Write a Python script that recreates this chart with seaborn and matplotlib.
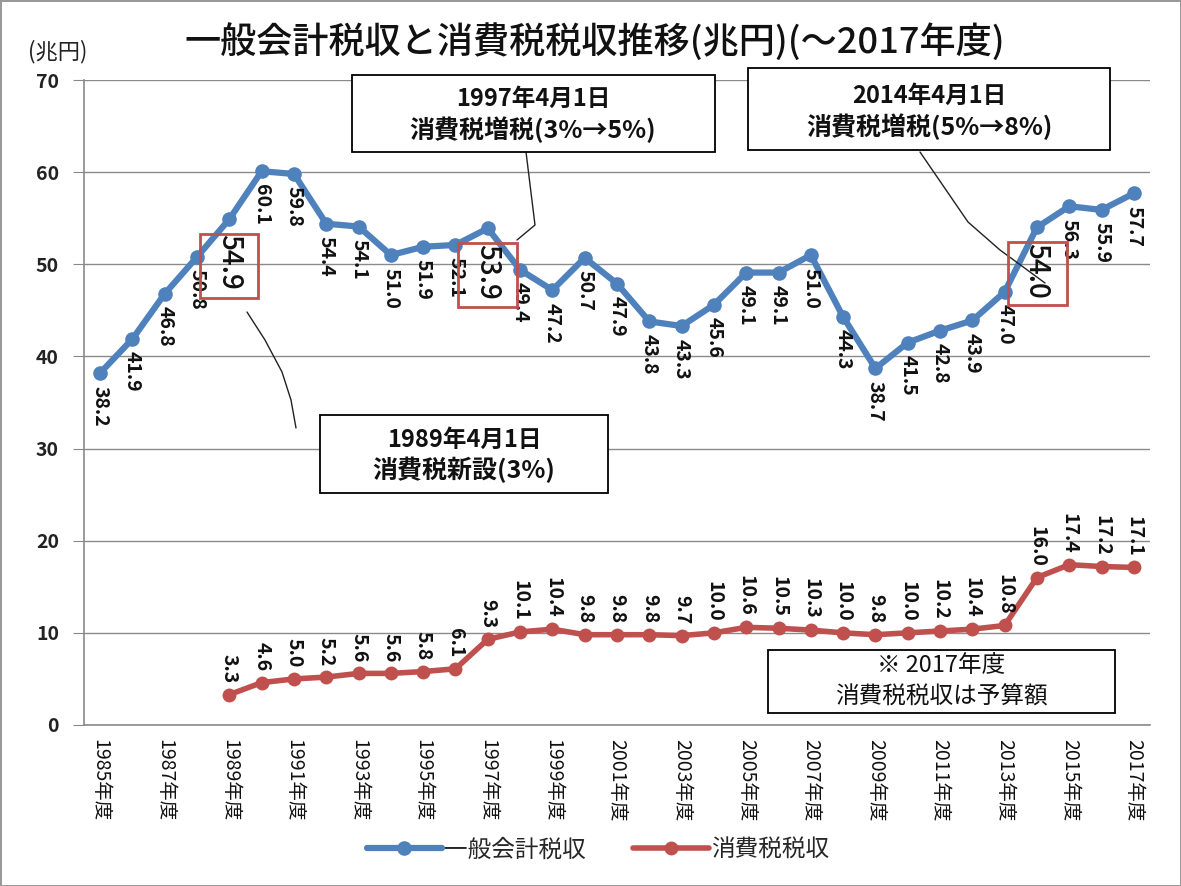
import numpy as np
import matplotlib.pyplot as plt
import seaborn as sns
from matplotlib.patches import Rectangle
from matplotlib.lines import Line2D

# data (兆円)
years = list(range(1985, 2018))
year_labels = [str(y) + '年度' for y in years]
general_tax = [38.2, 41.9, 46.8, 50.8, 54.9, 60.1, 59.8, 54.4, 54.1, 51.0, 51.9,
               52.1, 53.9, 49.4, 47.2, 50.7, 47.9, 43.8, 43.3, 45.6, 49.1, 49.1,
               51.0, 44.3, 38.7, 41.5, 42.8, 43.9, 47.0, 54.0, 56.3, 55.9, 57.7]
cons_years = list(range(1989, 2018))
cons_tax = [3.3, 4.6, 5.0, 5.2, 5.6, 5.6, 5.8, 6.1, 9.3, 10.1, 10.4, 9.8, 9.8,
            9.8, 9.7, 10.0, 10.6, 10.5, 10.3, 10.0, 9.8, 10.0, 10.2, 10.4, 10.8,
            16.0, 17.4, 17.2, 17.1]
highlight_years = [1989, 1997, 2014]

BLUE = '#4F81BD'
RED = '#C0504D'
W, H = 1181, 886

sns.set_style('white')
plt.rcParams['font.family'] = ['Noto Sans CJK JP', 'DejaVu Sans']

fig = plt.figure(figsize=(W / 100, H / 100), dpi=100)
fig.patch.set_edgecolor('#999999')
fig.patch.set_linewidth(2)
ax = fig.add_axes([84 / W, 1 - 725 / H, 1066 / W, 645 / H])

xi = np.array([y - 1985 for y in years])
xc = np.array([y - 1985 for y in cons_years])

sns.lineplot(x=xi, y=general_tax, ax=ax, color=BLUE, lw=4.5, marker='o',
             markersize=10.5, markeredgewidth=0, label='一般会計税収')
sns.lineplot(x=xc, y=cons_tax, ax=ax, color=RED, lw=4, marker='o',
             markersize=10, markeredgewidth=0, label='消費税税収')

# data labels
for x, v, yr in zip(xi, general_tax, years):
    big = yr in highlight_years
    ax.annotate(f'{v:.1f}', (x, v), xytext=(0, -11 if big else -9),
                textcoords='offset points', rotation=-90, ha='center', va='top',
                fontsize=20 if big else 14, fontweight='medium' if big else 'bold',
                color='#111111')
for x, v in zip(xc, cons_tax):
    ax.annotate(f'{v:.1f}', (x, v), xytext=(0, 8), textcoords='offset points',
                rotation=-90, ha='center', va='bottom', fontsize=14,
                fontweight='bold', color='#111111')

ax.set_xlim(-0.5, len(years) - 0.5)
ax.set_ylim(0, 70)
ax.set_yticks(range(0, 71, 10))
ax.set_yticklabels([str(v) for v in range(0, 71, 10)], fontsize=14,
                   fontweight='bold', color='#222222')
ax.set_xticks(np.arange(-0.5, len(years), 1))
ax.set_xticklabels([])
ax.set_xticks(xi[::2], minor=True)
ax.set_xticklabels(year_labels[::2], minor=True, rotation=-90, fontsize=14,
                   color='#111111')
ax.tick_params(axis='x', which='major', length=8, color='#888888', direction='out')
ax.tick_params(axis='x', which='minor', length=0, pad=10)
ax.tick_params(axis='y', length=8, color='#888888', pad=10, left=True)
ax.yaxis.grid(True, color='#8a8a8a', lw=1)
ax.set_axisbelow(True)
for s in ['top', 'right']:
    ax.spines[s].set_visible(False)
for s in ['left', 'bottom']:
    ax.spines[s].set_color('#8a8a8a')
    ax.spines[s].set_linewidth(1.2)
ax.set_xlabel('')
ax.set_ylabel('')

handles, labels = ax.get_legend_handles_labels()
ax.legend(handles, labels, loc='center', bbox_to_anchor=(598 / W, 1 - 850 / H),
          bbox_transform=fig.transFigure, ncol=2, frameon=False, fontsize=17,
          handlelength=3.2, columnspacing=2.0, handletextpad=0.1)

fig.text(595 / W, 1 - 42 / H, '一般会計税収と消費税税収推移(兆円)(～2017年度)',
         ha='center', va='center', fontsize=26, fontweight='medium', color='#111111')
fig.text(28 / W, 1 - 52 / H, '(兆円)', ha='left', va='center', fontsize=16,
         color='#222222')


def px_box(x0, y0, x1, y1, ec='black', lw=1.3):
    fig.add_artist(Rectangle((x0 / W, 1 - y1 / H), (x1 - x0) / W, (y1 - y0) / H,
                             transform=fig.transFigure, facecolor='white' if ec == 'black' else 'none',
                             edgecolor=ec, lw=lw, zorder=5))


def px_line(pts):
    xs = [p[0] / W for p in pts]
    ys = [1 - p[1] / H for p in pts]
    fig.add_artist(Line2D(xs, ys, transform=fig.transFigure, color='#222222',
                          lw=1, zorder=4))


def px_text(x, y, s, **kw):
    fig.text(x / W, 1 - y / H, s, ha='center', va='center', zorder=6,
             color='#111111', **kw)


# leader lines
px_line([(247, 312), (265, 340), (282, 372), (291, 400), (296, 428)])
px_line([(526, 152), (535, 225), (517, 240)])
px_line([(920, 152), (968, 222), (1000, 250), (1045, 283)])

# annotation boxes
px_box(352, 75, 715, 152)
px_text(533, 99, '1997年4月1日', fontsize=17, fontweight='bold')
px_text(533, 130, '消費税増税(3%→5%)', fontsize=18, fontweight='bold')

px_box(748, 68, 1110, 150)
px_text(929, 96, '2014年4月1日', fontsize=17, fontweight='bold')
px_text(929, 127, '消費税増税(5%→8%)', fontsize=18, fontweight='bold')

px_box(320, 415, 608, 493)
px_text(464, 440, '1989年4月1日', fontsize=17, fontweight='bold')
px_text(464, 470, '消費税新設(3%)', fontsize=18, fontweight='bold')

px_box(768, 650, 1115, 713)
px_text(941, 665, '※ 2017年度', fontsize=17)
px_text(941, 697, '消費税税収は予算額', fontsize=17)

# red frames around highlighted labels
px_box(200, 234, 258, 298, ec=RED, lw=2)
px_box(458, 243, 517, 307, ec=RED, lw=2)
px_box(1008, 242, 1067, 305, ec=RED, lw=2)

fig.savefig('out.png', dpi=100)
